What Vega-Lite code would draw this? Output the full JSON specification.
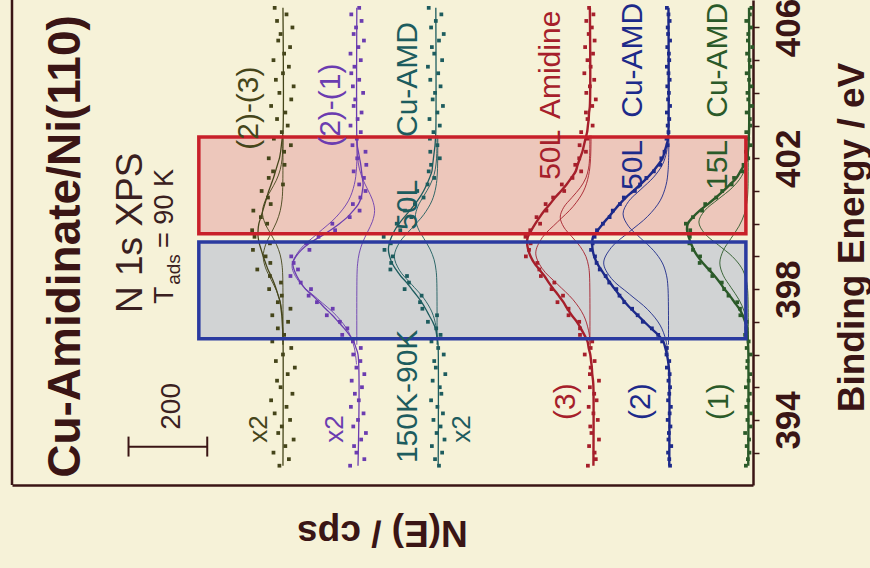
{
"$schema": "https://vega.github.io/schema/vega-lite/v6.json",
"width": 741, "height": 485,
"autosize": "none",
"padding": {"left": 12, "top": 0, "right": 117, "bottom": 83},
"background": "#f6f2d8",
"config": {"view": {"stroke": null}, "font": "Liberation Sans"},
"datasets": {
"boxes": [{"b":"r","N":1403,"N2":18,"E":402.65,"E2":399.69},{"b":"b","N":1403,"N2":18,"E":399.44,"E2":396.48}],
"fit": [
{"s":"A","E":392.6,"N":1190},{"s":"A","E":396.6,"N":1190},{"s":"A","E":396.8,"N":1191},{"s":"A","E":397.0,"N":1192},{"s":"A","E":397.2,"N":1193},{"s":"A","E":397.4,"N":1195},{"s":"A","E":397.6,"N":1197},{"s":"A","E":397.8,"N":1202},{"s":"A","E":398.0,"N":1207},{"s":"A","E":398.2,"N":1213},{"s":"A","E":398.4,"N":1220},{"s":"A","E":398.6,"N":1228},{"s":"A","E":398.8,"N":1234},{"s":"A","E":399.0,"N":1240},{"s":"A","E":399.2,"N":1245},{"s":"A","E":399.4,"N":1250},{"s":"A","E":399.6,"N":1253},{"s":"A","E":399.8,"N":1253},{"s":"A","E":400.0,"N":1251},{"s":"A","E":400.2,"N":1246},{"s":"A","E":400.4,"N":1241},{"s":"A","E":400.6,"N":1236},{"s":"A","E":400.8,"N":1231},{"s":"A","E":401.0,"N":1226},{"s":"A","E":401.2,"N":1220},{"s":"A","E":401.4,"N":1214},{"s":"A","E":401.6,"N":1209},{"s":"A","E":401.8,"N":1204},{"s":"A","E":402.0,"N":1199},{"s":"A","E":402.2,"N":1196},{"s":"A","E":402.4,"N":1194},{"s":"A","E":402.6,"N":1192},{"s":"A","E":402.8,"N":1190},{"s":"A","E":406.6,"N":1190},
{"s":"B","E":392.6,"N":1000},{"s":"B","E":396.0,"N":1000},{"s":"B","E":396.2,"N":1005},{"s":"B","E":396.4,"N":1011},{"s":"B","E":396.6,"N":1022},{"s":"B","E":396.8,"N":1035},{"s":"B","E":397.0,"N":1050},{"s":"B","E":397.2,"N":1065},{"s":"B","E":397.4,"N":1082},{"s":"B","E":397.6,"N":1098},{"s":"B","E":397.8,"N":1115},{"s":"B","E":398.0,"N":1133},{"s":"B","E":398.2,"N":1145},{"s":"B","E":398.4,"N":1155},{"s":"B","E":398.6,"N":1162},{"s":"B","E":398.8,"N":1165},{"s":"B","E":399.0,"N":1157},{"s":"B","E":399.2,"N":1143},{"s":"B","E":399.4,"N":1123},{"s":"B","E":399.6,"N":1096},{"s":"B","E":399.8,"N":1070},{"s":"B","E":400.0,"N":1047},{"s":"B","E":400.2,"N":1027},{"s":"B","E":400.4,"N":1012},{"s":"B","E":400.6,"N":999},{"s":"B","E":400.8,"N":992},{"s":"B","E":401.0,"N":989},{"s":"B","E":401.2,"N":987},{"s":"B","E":401.4,"N":989},{"s":"B","E":401.6,"N":991},{"s":"B","E":401.8,"N":993},{"s":"B","E":402.0,"N":996},{"s":"B","E":402.2,"N":999},{"s":"B","E":402.4,"N":1002},{"s":"B","E":402.6,"N":1003},{"s":"B","E":406.6,"N":1003},
{"s":"C","E":392.6,"N":797},{"s":"C","E":396.2,"N":797},{"s":"C","E":396.4,"N":798},{"s":"C","E":396.6,"N":801},{"s":"C","E":396.8,"N":804},{"s":"C","E":397.0,"N":811},{"s":"C","E":397.2,"N":820},{"s":"C","E":397.4,"N":829},{"s":"C","E":397.6,"N":839},{"s":"C","E":397.8,"N":851},{"s":"C","E":398.0,"N":864},{"s":"C","E":398.2,"N":877},{"s":"C","E":398.4,"N":892},{"s":"C","E":398.6,"N":904},{"s":"C","E":398.8,"N":914},{"s":"C","E":399.0,"N":920},{"s":"C","E":399.2,"N":923},{"s":"C","E":399.4,"N":921},{"s":"C","E":399.6,"N":915},{"s":"C","E":399.8,"N":907},{"s":"C","E":400.0,"N":896},{"s":"C","E":400.2,"N":883},{"s":"C","E":400.4,"N":869},{"s":"C","E":400.6,"N":856},{"s":"C","E":400.8,"N":844},{"s":"C","E":401.0,"N":834},{"s":"C","E":401.2,"N":826},{"s":"C","E":401.4,"N":819},{"s":"C","E":401.6,"N":813},{"s":"C","E":401.8,"N":811},{"s":"C","E":402.0,"N":809},{"s":"C","E":402.2,"N":807},{"s":"C","E":402.4,"N":805},{"s":"C","E":402.6,"N":804},{"s":"C","E":402.8,"N":803},{"s":"C","E":406.6,"N":803},
{"s":"D","E":392.6,"N":404},{"s":"D","E":395.0,"N":404},{"s":"D","E":395.2,"N":405},{"s":"D","E":395.4,"N":407},{"s":"D","E":395.6,"N":408},{"s":"D","E":395.8,"N":410},{"s":"D","E":396.0,"N":412},{"s":"D","E":396.2,"N":416},{"s":"D","E":396.4,"N":419},{"s":"D","E":396.6,"N":427},{"s":"D","E":396.8,"N":436},{"s":"D","E":397.0,"N":446},{"s":"D","E":397.2,"N":459},{"s":"D","E":397.4,"N":470},{"s":"D","E":397.6,"N":480},{"s":"D","E":397.8,"N":492},{"s":"D","E":398.0,"N":505},{"s":"D","E":398.2,"N":517},{"s":"D","E":398.4,"N":528},{"s":"D","E":398.6,"N":541},{"s":"D","E":398.8,"N":554},{"s":"D","E":399.0,"N":563},{"s":"D","E":399.2,"N":569},{"s":"D","E":399.4,"N":572},{"s":"D","E":399.6,"N":570},{"s":"D","E":399.8,"N":561},{"s":"D","E":400.0,"N":551},{"s":"D","E":400.2,"N":540},{"s":"D","E":400.4,"N":528},{"s":"D","E":400.6,"N":514},{"s":"D","E":400.8,"N":501},{"s":"D","E":401.0,"N":486},{"s":"D","E":401.2,"N":472},{"s":"D","E":401.4,"N":460},{"s":"D","E":401.6,"N":449},{"s":"D","E":401.8,"N":444},{"s":"D","E":402.0,"N":438},{"s":"D","E":402.2,"N":432},{"s":"D","E":402.4,"N":428},{"s":"D","E":402.6,"N":424},{"s":"D","E":402.8,"N":420},{"s":"D","E":403.0,"N":418},{"s":"D","E":403.2,"N":416},{"s":"D","E":403.4,"N":415},{"s":"D","E":403.6,"N":413},{"s":"D","E":406.6,"N":413},
{"s":"E","E":392.6,"N":212},{"s":"E","E":395.4,"N":212},{"s":"E","E":395.6,"N":213},{"s":"E","E":395.8,"N":215},{"s":"E","E":396.0,"N":218},{"s":"E","E":396.2,"N":222},{"s":"E","E":396.4,"N":227},{"s":"E","E":396.6,"N":240},{"s":"E","E":396.8,"N":258},{"s":"E","E":397.0,"N":275},{"s":"E","E":397.2,"N":292},{"s":"E","E":397.4,"N":309},{"s":"E","E":397.6,"N":324},{"s":"E","E":397.8,"N":337},{"s":"E","E":398.0,"N":350},{"s":"E","E":398.2,"N":362},{"s":"E","E":398.4,"N":374},{"s":"E","E":398.6,"N":385},{"s":"E","E":398.8,"N":395},{"s":"E","E":399.0,"N":402},{"s":"E","E":399.2,"N":406},{"s":"E","E":399.4,"N":407},{"s":"E","E":399.6,"N":405},{"s":"E","E":399.8,"N":393},{"s":"E","E":400.0,"N":380},{"s":"E","E":400.2,"N":366},{"s":"E","E":400.4,"N":352},{"s":"E","E":400.6,"N":338},{"s":"E","E":400.8,"N":322},{"s":"E","E":401.0,"N":303},{"s":"E","E":401.2,"N":285},{"s":"E","E":401.4,"N":268},{"s":"E","E":401.6,"N":253},{"s":"E","E":401.8,"N":240},{"s":"E","E":402.0,"N":229},{"s":"E","E":402.2,"N":224},{"s":"E","E":402.4,"N":219},{"s":"E","E":402.6,"N":215},{"s":"E","E":402.8,"N":214},{"s":"E","E":406.6,"N":214},
{"s":"F","E":392.6,"N":12},{"s":"F","E":396.2,"N":12},{"s":"F","E":396.4,"N":13},{"s":"F","E":396.6,"N":14},{"s":"F","E":396.8,"N":15},{"s":"F","E":397.0,"N":20},{"s":"F","E":397.2,"N":26},{"s":"F","E":397.4,"N":35},{"s":"F","E":397.6,"N":47},{"s":"F","E":397.8,"N":59},{"s":"F","E":398.0,"N":72},{"s":"F","E":398.2,"N":84},{"s":"F","E":398.4,"N":97},{"s":"F","E":398.6,"N":112},{"s":"F","E":398.8,"N":127},{"s":"F","E":399.0,"N":140},{"s":"F","E":399.2,"N":150},{"s":"F","E":399.4,"N":157},{"s":"F","E":399.6,"N":163},{"s":"F","E":399.8,"N":167},{"s":"F","E":400.0,"N":165},{"s":"F","E":400.2,"N":152},{"s":"F","E":400.4,"N":135},{"s":"F","E":400.6,"N":114},{"s":"F","E":400.8,"N":94},{"s":"F","E":401.0,"N":75},{"s":"F","E":401.2,"N":58},{"s":"F","E":401.4,"N":42},{"s":"F","E":401.6,"N":32},{"s":"F","E":401.8,"N":22},{"s":"F","E":402.0,"N":14},{"s":"F","E":402.2,"N":13},{"s":"F","E":402.4,"N":11},{"s":"F","E":402.6,"N":11},{"s":"F","E":402.8,"N":10},{"s":"F","E":406.6,"N":10}
],
"comp": [
{"s":"A","c":"A1","E":396.3,"N":1190},{"s":"A","c":"A1","E":398.4,"N":1190.6},{"s":"A","c":"A1","E":398.725,"N":1192.3},{"s":"A","c":"A1","E":399.05,"N":1197},{"s":"A","c":"A1","E":399.375,"N":1206.9},{"s":"A","c":"A1","E":399.7,"N":1221.6},{"s":"A","c":"A1","E":400.025,"N":1235.9},{"s":"A","c":"A1","E":400.35,"N":1242},{"s":"A","c":"A1","E":400.675,"N":1235.9},{"s":"A","c":"A1","E":401.0,"N":1221.6},{"s":"A","c":"A1","E":401.325,"N":1206.9},{"s":"A","c":"A1","E":401.65,"N":1197},{"s":"A","c":"A1","E":401.975,"N":1192.3},{"s":"A","c":"A1","E":402.3,"N":1190.6},{"s":"A","c":"A1","E":402.7,"N":1190},
{"s":"A","c":"A2","E":396.3,"N":1190},{"s":"A","c":"A2","E":396.9,"N":1190.6},{"s":"A","c":"A2","E":397.25,"N":1192.2},{"s":"A","c":"A2","E":397.6,"N":1196.8},{"s":"A","c":"A2","E":397.95,"N":1206.3},{"s":"A","c":"A2","E":398.3,"N":1220.4},{"s":"A","c":"A2","E":398.65,"N":1234.1},{"s":"A","c":"A2","E":399.0,"N":1240},{"s":"A","c":"A2","E":399.35,"N":1234.1},{"s":"A","c":"A2","E":399.7,"N":1220.4},{"s":"A","c":"A2","E":400.05,"N":1206.3},{"s":"A","c":"A2","E":400.4,"N":1196.8},{"s":"A","c":"A2","E":400.75,"N":1192.2},{"s":"A","c":"A2","E":401.1,"N":1190.6},{"s":"A","c":"A2","E":402.7,"N":1190},
{"s":"B","c":"B1","E":395.7,"N":1003.8},{"s":"B","c":"B1","E":396.2,"N":1009.3},{"s":"B","c":"B1","E":396.7,"N":1024.3},{"s":"B","c":"B1","E":397.2,"N":1055.6},{"s":"B","c":"B1","E":397.7,"N":1102.2},{"s":"B","c":"B1","E":398.2,"N":1147.5},{"s":"B","c":"B1","E":398.7,"N":1167},{"s":"B","c":"B1","E":399.2,"N":1147.5},{"s":"B","c":"B1","E":399.7,"N":1102.2},{"s":"B","c":"B1","E":400.2,"N":1055.6},{"s":"B","c":"B1","E":400.7,"N":1024.3},{"s":"B","c":"B1","E":401.2,"N":1009.3},{"s":"B","c":"B1","E":401.7,"N":1003.8},{"s":"B","c":"B1","E":402.7,"N":1002},
{"s":"B","c":"B2","E":396.3,"N":1003},{"s":"B","c":"B2","E":398.45,"N":1002.5},{"s":"B","c":"B2","E":398.775,"N":1001},{"s":"B","c":"B2","E":399.1,"N":996.9},{"s":"B","c":"B2","E":399.425,"N":988.4},{"s":"B","c":"B2","E":399.75,"N":975.7},{"s":"B","c":"B2","E":400.075,"N":963.3},{"s":"B","c":"B2","E":400.4,"N":958},{"s":"B","c":"B2","E":400.725,"N":963.3},{"s":"B","c":"B2","E":401.05,"N":975.7},{"s":"B","c":"B2","E":401.375,"N":988.4},{"s":"B","c":"B2","E":401.7,"N":996.9},{"s":"B","c":"B2","E":402.025,"N":1001},{"s":"B","c":"B2","E":402.35,"N":1002.5},{"s":"B","c":"B2","E":402.7,"N":1003},
{"s":"C","c":"C1","E":396.3,"N":800},{"s":"C","c":"C1","E":398.25,"N":800.6},{"s":"C","c":"C1","E":398.575,"N":802.4},{"s":"C","c":"C1","E":398.9,"N":807.4},{"s":"C","c":"C1","E":399.225,"N":817.9},{"s":"C","c":"C1","E":399.55,"N":833.4},{"s":"C","c":"C1","E":399.875,"N":848.5},{"s":"C","c":"C1","E":400.2,"N":855},{"s":"C","c":"C1","E":400.525,"N":848.5},{"s":"C","c":"C1","E":400.85,"N":833.4},{"s":"C","c":"C1","E":401.175,"N":817.9},{"s":"C","c":"C1","E":401.5,"N":807.4},{"s":"C","c":"C1","E":401.825,"N":802.4},{"s":"C","c":"C1","E":402.15,"N":800.6},{"s":"C","c":"C1","E":402.7,"N":800},
{"s":"C","c":"C2","E":396.3,"N":798},{"s":"C","c":"C2","E":396.45,"N":799.2},{"s":"C","c":"C2","E":396.875,"N":802.8},{"s":"C","c":"C2","E":397.3,"N":812.9},{"s":"C","c":"C2","E":397.725,"N":833.8},{"s":"C","c":"C2","E":398.15,"N":864.8},{"s":"C","c":"C2","E":398.575,"N":895},{"s":"C","c":"C2","E":399.0,"N":908},{"s":"C","c":"C2","E":399.425,"N":895},{"s":"C","c":"C2","E":399.85,"N":864.8},{"s":"C","c":"C2","E":400.275,"N":833.8},{"s":"C","c":"C2","E":400.7,"N":812.9},{"s":"C","c":"C2","E":401.125,"N":802.8},{"s":"C","c":"C2","E":401.55,"N":799.2},{"s":"C","c":"C2","E":402.7,"N":798},
{"s":"D","c":"D1","E":396.3,"N":413},{"s":"D","c":"D1","E":398.4,"N":413.8},{"s":"D","c":"D1","E":398.7,"N":416.3},{"s":"D","c":"D1","E":399.0,"N":423.1},{"s":"D","c":"D1","E":399.3,"N":437.4},{"s":"D","c":"D1","E":399.6,"N":458.5},{"s":"D","c":"D1","E":399.9,"N":479.2},{"s":"D","c":"D1","E":400.2,"N":488},{"s":"D","c":"D1","E":400.5,"N":479.2},{"s":"D","c":"D1","E":400.8,"N":458.5},{"s":"D","c":"D1","E":401.1,"N":437.4},{"s":"D","c":"D1","E":401.4,"N":423.1},{"s":"D","c":"D1","E":401.7,"N":416.3},{"s":"D","c":"D1","E":402.0,"N":413.8},{"s":"D","c":"D1","E":402.7,"N":413},
{"s":"D","c":"D2","E":396.25,"N":411.5},{"s":"D","c":"D2","E":396.725,"N":416.2},{"s":"D","c":"D2","E":397.2,"N":428.9},{"s":"D","c":"D2","E":397.675,"N":455.5},{"s":"D","c":"D2","E":398.15,"N":495},{"s":"D","c":"D2","E":398.625,"N":533.5},{"s":"D","c":"D2","E":399.1,"N":550},{"s":"D","c":"D2","E":399.575,"N":533.5},{"s":"D","c":"D2","E":400.05,"N":495},{"s":"D","c":"D2","E":400.525,"N":455.5},{"s":"D","c":"D2","E":401.0,"N":428.9},{"s":"D","c":"D2","E":401.475,"N":416.2},{"s":"D","c":"D2","E":401.95,"N":411.5},{"s":"D","c":"D2","E":402.7,"N":410},
{"s":"E","c":"E1","E":396.3,"N":214},{"s":"E","c":"E1","E":398.05,"N":215.3},{"s":"E","c":"E1","E":398.425,"N":219.1},{"s":"E","c":"E1","E":398.8,"N":229.5},{"s":"E","c":"E1","E":399.175,"N":251.4},{"s":"E","c":"E1","E":399.55,"N":283.8},{"s":"E","c":"E1","E":399.925,"N":315.4},{"s":"E","c":"E1","E":400.3,"N":329},{"s":"E","c":"E1","E":400.675,"N":315.4},{"s":"E","c":"E1","E":401.05,"N":283.8},{"s":"E","c":"E1","E":401.425,"N":251.4},{"s":"E","c":"E1","E":401.8,"N":229.5},{"s":"E","c":"E1","E":402.175,"N":219.1},{"s":"E","c":"E1","E":402.55,"N":215.3},{"s":"E","c":"E1","E":402.7,"N":214},
{"s":"E","c":"E2","E":395.95,"N":214.8},{"s":"E","c":"E2","E":396.425,"N":220.3},{"s":"E","c":"E2","E":396.9,"N":235.3},{"s":"E","c":"E2","E":397.375,"N":266.6},{"s":"E","c":"E2","E":397.85,"N":313.2},{"s":"E","c":"E2","E":398.325,"N":358.5},{"s":"E","c":"E2","E":398.8,"N":378},{"s":"E","c":"E2","E":399.275,"N":358.5},{"s":"E","c":"E2","E":399.75,"N":313.2},{"s":"E","c":"E2","E":400.225,"N":266.6},{"s":"E","c":"E2","E":400.7,"N":235.3},{"s":"E","c":"E2","E":401.175,"N":220.3},{"s":"E","c":"E2","E":401.65,"N":214.8},{"s":"E","c":"E2","E":402.7,"N":213},
{"s":"F","c":"F1","E":396.3,"N":12},{"s":"F","c":"F1","E":397.95,"N":13.4},{"s":"F","c":"F1","E":398.3,"N":17.5},{"s":"F","c":"F1","E":398.65,"N":28.9},{"s":"F","c":"F1","E":399.0,"N":52.6},{"s":"F","c":"F1","E":399.35,"N":87.9},{"s":"F","c":"F1","E":399.7,"N":122.3},{"s":"F","c":"F1","E":400.05,"N":137},{"s":"F","c":"F1","E":400.4,"N":122.3},{"s":"F","c":"F1","E":400.75,"N":87.9},{"s":"F","c":"F1","E":401.1,"N":52.6},{"s":"F","c":"F1","E":401.45,"N":28.9},{"s":"F","c":"F1","E":401.8,"N":17.5},{"s":"F","c":"F1","E":402.15,"N":13.4},{"s":"F","c":"F1","E":402.7,"N":12},
{"s":"F","c":"F2","E":396.3,"N":12},{"s":"F","c":"F2","E":396.55,"N":12.8},{"s":"F","c":"F2","E":396.925,"N":15.2},{"s":"F","c":"F2","E":397.3,"N":21.7},{"s":"F","c":"F2","E":397.675,"N":35.4},{"s":"F","c":"F2","E":398.05,"N":55.7},{"s":"F","c":"F2","E":398.425,"N":75.5},{"s":"F","c":"F2","E":398.8,"N":84},{"s":"F","c":"F2","E":399.175,"N":75.5},{"s":"F","c":"F2","E":399.55,"N":55.7},{"s":"F","c":"F2","E":399.925,"N":35.4},{"s":"F","c":"F2","E":400.3,"N":21.7},{"s":"F","c":"F2","E":400.675,"N":15.2},{"s":"F","c":"F2","E":401.05,"N":12.8},{"s":"F","c":"F2","E":402.7,"N":12}
],
"pts": [
{"s":"A","E":392.6,"N":1199},{"s":"A","E":392.8,"N":1175},{"s":"A","E":393.0,"N":1214},{"s":"A","E":393.2,"N":1184},{"s":"A","E":393.4,"N":1163},{"s":"A","E":393.6,"N":1202},{"s":"A","E":393.8,"N":1193},{"s":"A","E":394.0,"N":1172},{"s":"A","E":394.2,"N":1211},{"s":"A","E":394.4,"N":1181},{"s":"A","E":394.6,"N":1220},{"s":"A","E":394.8,"N":1166},{"s":"A","E":395.0,"N":1196},{"s":"A","E":395.2,"N":1205},{"s":"A","E":395.4,"N":1178},{"s":"A","E":395.6,"N":1160},{"s":"A","E":395.8,"N":1208},{"s":"A","E":396.0,"N":1190},{"s":"A","E":396.2,"N":1169},{"s":"A","E":396.4,"N":1217},{"s":"A","E":396.6,"N":1187},{"s":"A","E":396.8,"N":1203},{"s":"A","E":397.0,"N":1177},{"s":"A","E":397.2,"N":1217},{"s":"A","E":397.4,"N":1171},{"s":"A","E":397.6,"N":1203},{"s":"A","E":397.8,"N":1193},{"s":"A","E":398.0,"N":1225},{"s":"A","E":398.2,"N":1195},{"s":"A","E":398.4,"N":1223},{"s":"A","E":398.6,"N":1255},{"s":"A","E":398.8,"N":1222},{"s":"A","E":399.0,"N":1234},{"s":"A","E":399.2,"N":1266},{"s":"A","E":399.4,"N":1223},{"s":"A","E":399.6,"N":1262},{"s":"A","E":399.8,"N":1268},{"s":"A","E":400.0,"N":1230},{"s":"A","E":400.2,"N":1246},{"s":"A","E":400.4,"N":1265},{"s":"A","E":400.6,"N":1221},{"s":"A","E":400.8,"N":1228},{"s":"A","E":401.0,"N":1244},{"s":"A","E":401.2,"N":1190},{"s":"A","E":401.4,"N":1226},{"s":"A","E":401.6,"N":1215},{"s":"A","E":401.8,"N":1186},{"s":"A","E":402.0,"N":1226},{"s":"A","E":402.2,"N":1187},{"s":"A","E":402.4,"N":1170},{"s":"A","E":402.6,"N":1213},{"s":"A","E":402.8,"N":1193},{"s":"A","E":403.0,"N":1178},{"s":"A","E":403.2,"N":1205},{"s":"A","E":403.4,"N":1184},{"s":"A","E":403.6,"N":1220},{"s":"A","E":403.8,"N":1169},{"s":"A","E":404.0,"N":1199},{"s":"A","E":404.2,"N":1163},{"s":"A","E":404.4,"N":1208},{"s":"A","E":404.6,"N":1190},{"s":"A","E":404.8,"N":1175},{"s":"A","E":405.0,"N":1214},{"s":"A","E":405.2,"N":1187},{"s":"A","E":405.4,"N":1172},{"s":"A","E":405.6,"N":1202},{"s":"A","E":405.8,"N":1196},{"s":"A","E":406.0,"N":1166},{"s":"A","E":406.2,"N":1205},{"s":"A","E":406.4,"N":1181},{"s":"A","E":406.6,"N":1211},
{"s":"B","E":392.6,"N":1020},{"s":"B","E":392.8,"N":984},{"s":"B","E":393.0,"N":1004},{"s":"B","E":393.2,"N":1010},{"s":"B","E":393.4,"N":992},{"s":"B","E":393.6,"N":980},{"s":"B","E":393.8,"N":1012},{"s":"B","E":394.0,"N":1000},{"s":"B","E":394.2,"N":986},{"s":"B","E":394.4,"N":1018},{"s":"B","E":394.6,"N":998},{"s":"B","E":394.8,"N":1008},{"s":"B","E":395.0,"N":990},{"s":"B","E":395.2,"N":1016},{"s":"B","E":395.4,"N":984},{"s":"B","E":395.6,"N":1004},{"s":"B","E":395.8,"N":994},{"s":"B","E":396.0,"N":1012},{"s":"B","E":396.2,"N":993},{"s":"B","E":396.4,"N":1013},{"s":"B","E":396.6,"N":1040},{"s":"B","E":396.8,"N":1027},{"s":"B","E":397.0,"N":1046},{"s":"B","E":397.2,"N":1079},{"s":"B","E":397.4,"N":1064},{"s":"B","E":397.6,"N":1104},{"s":"B","E":397.8,"N":1125},{"s":"B","E":398.0,"N":1119},{"s":"B","E":398.2,"N":1145},{"s":"B","E":398.4,"N":1171},{"s":"B","E":398.6,"N":1152},{"s":"B","E":398.8,"N":1163},{"s":"B","E":399.0,"N":1169},{"s":"B","E":399.2,"N":1123},{"s":"B","E":399.4,"N":1131},{"s":"B","E":399.6,"N":1100},{"s":"B","E":399.8,"N":1058},{"s":"B","E":400.0,"N":1065},{"s":"B","E":400.2,"N":1021},{"s":"B","E":400.4,"N":996},{"s":"B","E":400.6,"N":1013},{"s":"B","E":400.8,"N":994},{"s":"B","E":401.0,"N":981},{"s":"B","E":401.2,"N":997},{"s":"B","E":401.4,"N":985},{"s":"B","E":401.6,"N":1011},{"s":"B","E":401.8,"N":979},{"s":"B","E":402.0,"N":1002},{"s":"B","E":402.2,"N":981},{"s":"B","E":402.4,"N":1014},{"s":"B","E":402.6,"N":1003},{"s":"B","E":402.8,"N":993},{"s":"B","E":403.0,"N":1019},{"s":"B","E":403.2,"N":1001},{"s":"B","E":403.4,"N":991},{"s":"B","E":403.6,"N":1011},{"s":"B","E":403.8,"N":1007},{"s":"B","E":404.0,"N":987},{"s":"B","E":404.2,"N":1013},{"s":"B","E":404.4,"N":997},{"s":"B","E":404.6,"N":1017},{"s":"B","E":404.8,"N":1009},{"s":"B","E":405.0,"N":993},{"s":"B","E":405.2,"N":1019},{"s":"B","E":405.4,"N":999},{"s":"B","E":405.6,"N":985},{"s":"B","E":405.8,"N":1011},{"s":"B","E":406.0,"N":1005},{"s":"B","E":406.2,"N":991},{"s":"B","E":406.4,"N":1017},{"s":"B","E":406.6,"N":997},
{"s":"C","E":392.6,"N":795},{"s":"C","E":392.8,"N":805},{"s":"C","E":393.0,"N":787},{"s":"C","E":393.2,"N":813},{"s":"C","E":393.4,"N":781},{"s":"C","E":393.6,"N":801},{"s":"C","E":393.8,"N":791},{"s":"C","E":394.0,"N":809},{"s":"C","E":394.2,"N":785},{"s":"C","E":394.4,"N":799},{"s":"C","E":394.6,"N":815},{"s":"C","E":394.8,"N":789},{"s":"C","E":395.0,"N":793},{"s":"C","E":395.2,"N":811},{"s":"C","E":395.4,"N":779},{"s":"C","E":395.6,"N":803},{"s":"C","E":395.8,"N":807},{"s":"C","E":396.0,"N":783},{"s":"C","E":396.2,"N":797},{"s":"C","E":396.4,"N":814},{"s":"C","E":396.6,"N":791},{"s":"C","E":396.8,"N":802},{"s":"C","E":397.0,"N":823},{"s":"C","E":397.2,"N":800},{"s":"C","E":397.4,"N":837},{"s":"C","E":397.6,"N":843},{"s":"C","E":397.8,"N":839},{"s":"C","E":398.0,"N":882},{"s":"C","E":398.2,"N":871},{"s":"C","E":398.4,"N":876},{"s":"C","E":398.6,"N":918},{"s":"C","E":398.8,"N":916},{"s":"C","E":399.0,"N":912},{"s":"C","E":399.2,"N":933},{"s":"C","E":399.4,"N":917},{"s":"C","E":399.6,"N":935},{"s":"C","E":399.8,"N":893},{"s":"C","E":400.0,"N":902},{"s":"C","E":400.2,"N":865},{"s":"C","E":400.4,"N":881},{"s":"C","E":400.6,"N":856},{"s":"C","E":400.8,"N":834},{"s":"C","E":401.0,"N":850},{"s":"C","E":401.2,"N":824},{"s":"C","E":401.4,"N":807},{"s":"C","E":401.6,"N":821},{"s":"C","E":401.8,"N":815},{"s":"C","E":402.0,"N":793},{"s":"C","E":402.2,"N":817},{"s":"C","E":402.4,"N":799},{"s":"C","E":402.6,"N":818},{"s":"C","E":402.8,"N":809},{"s":"C","E":403.0,"N":793},{"s":"C","E":403.2,"N":819},{"s":"C","E":403.4,"N":799},{"s":"C","E":403.6,"N":785},{"s":"C","E":403.8,"N":811},{"s":"C","E":404.0,"N":805},{"s":"C","E":404.2,"N":791},{"s":"C","E":404.4,"N":817},{"s":"C","E":404.6,"N":797},{"s":"C","E":404.8,"N":823},{"s":"C","E":405.0,"N":787},{"s":"C","E":405.2,"N":807},{"s":"C","E":405.4,"N":813},{"s":"C","E":405.6,"N":795},{"s":"C","E":405.8,"N":783},{"s":"C","E":406.0,"N":815},{"s":"C","E":406.2,"N":803},{"s":"C","E":406.4,"N":789},{"s":"C","E":406.6,"N":821},
{"s":"D","E":392.6,"N":418},{"s":"D","E":392.8,"N":398},{"s":"D","E":393.0,"N":401},{"s":"D","E":393.2,"N":415},{"s":"D","E":393.4,"N":390},{"s":"D","E":393.6,"N":409},{"s":"D","E":393.8,"N":412},{"s":"D","E":394.0,"N":393},{"s":"D","E":394.2,"N":404},{"s":"D","E":394.4,"N":416},{"s":"D","E":394.6,"N":396},{"s":"D","E":394.8,"N":402},{"s":"D","E":395.0,"N":413},{"s":"D","E":395.2,"N":390},{"s":"D","E":395.4,"N":413},{"s":"D","E":395.6,"N":411},{"s":"D","E":395.8,"N":401},{"s":"D","E":396.0,"N":426},{"s":"D","E":396.2,"N":411},{"s":"D","E":396.4,"N":407},{"s":"D","E":396.6,"N":438},{"s":"D","E":396.8,"N":438},{"s":"D","E":397.0,"N":440},{"s":"D","E":397.2,"N":467},{"s":"D","E":397.4,"N":467},{"s":"D","E":397.6,"N":495},{"s":"D","E":397.8,"N":481},{"s":"D","E":398.0,"N":510},{"s":"D","E":398.2,"N":503},{"s":"D","E":398.4,"N":537},{"s":"D","E":398.6,"N":541},{"s":"D","E":398.8,"N":546},{"s":"D","E":399.0,"N":575},{"s":"D","E":399.2,"N":567},{"s":"D","E":399.4,"N":563},{"s":"D","E":399.6,"N":576},{"s":"D","E":399.8,"N":564},{"s":"D","E":400.0,"N":539},{"s":"D","E":400.2,"N":548},{"s":"D","E":400.4,"N":523},{"s":"D","E":400.6,"N":525},{"s":"D","E":400.8,"N":506},{"s":"D","E":401.0,"N":478},{"s":"D","E":401.2,"N":484},{"s":"D","E":401.4,"N":457},{"s":"D","E":401.6,"N":435},{"s":"D","E":401.8,"N":450},{"s":"D","E":402.0,"N":440},{"s":"D","E":402.2,"N":423},{"s":"D","E":402.4,"N":439},{"s":"D","E":402.6,"N":419},{"s":"D","E":402.8,"N":435},{"s":"D","E":403.0,"N":406},{"s":"D","E":403.2,"N":419},{"s":"D","E":403.4,"N":423},{"s":"D","E":403.6,"N":407},{"s":"D","E":403.8,"N":398},{"s":"D","E":404.0,"N":422},{"s":"D","E":404.2,"N":413},{"s":"D","E":404.4,"N":402},{"s":"D","E":404.6,"N":427},{"s":"D","E":404.8,"N":411},{"s":"D","E":405.0,"N":419},{"s":"D","E":405.2,"N":405},{"s":"D","E":405.4,"N":425},{"s":"D","E":405.6,"N":401},{"s":"D","E":405.8,"N":416},{"s":"D","E":406.0,"N":408},{"s":"D","E":406.2,"N":422},{"s":"D","E":406.4,"N":404},{"s":"D","E":406.6,"N":415},
{"s":"E","E":392.6,"N":210},{"s":"E","E":392.8,"N":212},{"s":"E","E":393.0,"N":215},{"s":"E","E":393.2,"N":207},{"s":"E","E":393.4,"N":214},{"s":"E","E":393.6,"N":213},{"s":"E","E":393.8,"N":209},{"s":"E","E":394.0,"N":216},{"s":"E","E":394.2,"N":211},{"s":"E","E":394.4,"N":208},{"s":"E","E":394.6,"N":215},{"s":"E","E":394.8,"N":212},{"s":"E","E":395.0,"N":210},{"s":"E","E":395.2,"N":214},{"s":"E","E":395.4,"N":211},{"s":"E","E":395.6,"N":218},{"s":"E","E":395.8,"N":212},{"s":"E","E":396.0,"N":219},{"s":"E","E":396.2,"N":218},{"s":"E","E":396.4,"N":230},{"s":"E","E":396.6,"N":240},{"s":"E","E":396.8,"N":256},{"s":"E","E":397.0,"N":279},{"s":"E","E":397.2,"N":292},{"s":"E","E":397.4,"N":306},{"s":"E","E":397.6,"N":326},{"s":"E","E":397.8,"N":338},{"s":"E","E":398.0,"N":346},{"s":"E","E":398.2,"N":364},{"s":"E","E":398.4,"N":373},{"s":"E","E":398.6,"N":388},{"s":"E","E":398.8,"N":396},{"s":"E","E":399.0,"N":400},{"s":"E","E":399.2,"N":410},{"s":"E","E":399.4,"N":406},{"s":"E","E":399.6,"N":401},{"s":"E","E":399.8,"N":395},{"s":"E","E":400.0,"N":380},{"s":"E","E":400.2,"N":363},{"s":"E","E":400.4,"N":355},{"s":"E","E":400.6,"N":337},{"s":"E","E":400.8,"N":327},{"s":"E","E":401.0,"N":299},{"s":"E","E":401.2,"N":286},{"s":"E","E":401.4,"N":270},{"s":"E","E":401.6,"N":251},{"s":"E","E":401.8,"N":235},{"s":"E","E":402.0,"N":232},{"s":"E","E":402.2,"N":224},{"s":"E","E":402.4,"N":216},{"s":"E","E":402.6,"N":219},{"s":"E","E":402.8,"N":214},{"s":"E","E":403.0,"N":216},{"s":"E","E":403.2,"N":212},{"s":"E","E":403.4,"N":218},{"s":"E","E":403.6,"N":210},{"s":"E","E":403.8,"N":215},{"s":"E","E":404.0,"N":213},{"s":"E","E":404.2,"N":217},{"s":"E","E":404.4,"N":211},{"s":"E","E":404.6,"N":214},{"s":"E","E":404.8,"N":218},{"s":"E","E":405.0,"N":212},{"s":"E","E":405.2,"N":213},{"s":"E","E":405.4,"N":217},{"s":"E","E":405.6,"N":210},{"s":"E","E":405.8,"N":215},{"s":"E","E":406.0,"N":216},{"s":"E","E":406.2,"N":211},{"s":"E","E":406.4,"N":214},{"s":"E","E":406.6,"N":218},
{"s":"F","E":392.6,"N":18},{"s":"F","E":392.8,"N":13},{"s":"F","E":393.0,"N":9},{"s":"F","E":393.2,"N":16},{"s":"F","E":393.4,"N":10},{"s":"F","E":393.6,"N":20},{"s":"F","E":393.8,"N":6},{"s":"F","E":394.0,"N":14},{"s":"F","E":394.2,"N":5},{"s":"F","E":394.4,"N":17},{"s":"F","E":394.6,"N":12},{"s":"F","E":394.8,"N":8},{"s":"F","E":395.0,"N":18},{"s":"F","E":395.2,"N":11},{"s":"F","E":395.4,"N":7},{"s":"F","E":395.6,"N":15},{"s":"F","E":395.8,"N":14},{"s":"F","E":396.0,"N":6},{"s":"F","E":396.2,"N":16},{"s":"F","E":396.4,"N":11},{"s":"F","E":396.6,"N":20},{"s":"F","E":396.8,"N":17},{"s":"F","E":397.0,"N":16},{"s":"F","E":397.2,"N":32},{"s":"F","E":397.4,"N":33},{"s":"F","E":397.6,"N":40},{"s":"F","E":397.8,"N":62},{"s":"F","E":398.0,"N":73},{"s":"F","E":398.2,"N":79},{"s":"F","E":398.4,"N":103},{"s":"F","E":398.6,"N":110},{"s":"F","E":398.8,"N":135},{"s":"F","E":399.0,"N":134},{"s":"F","E":399.2,"N":152},{"s":"F","E":399.4,"N":161},{"s":"F","E":399.6,"N":160},{"s":"F","E":399.8,"N":159},{"s":"F","E":400.0,"N":170},{"s":"F","E":400.2,"N":152},{"s":"F","E":400.4,"N":129},{"s":"F","E":400.6,"N":121},{"s":"F","E":400.8,"N":93},{"s":"F","E":401.0,"N":78},{"s":"F","E":401.2,"N":54},{"s":"F","E":401.4,"N":48},{"s":"F","E":401.6,"N":26},{"s":"F","E":401.8,"N":24},{"s":"F","E":402.0,"N":12},{"s":"F","E":402.2,"N":18},{"s":"F","E":402.4,"N":6},{"s":"F","E":402.6,"N":12},{"s":"F","E":402.8,"N":17},{"s":"F","E":403.0,"N":7},{"s":"F","E":403.2,"N":8},{"s":"F","E":403.4,"N":16},{"s":"F","E":403.6,"N":3},{"s":"F","E":403.8,"N":12},{"s":"F","E":404.0,"N":14},{"s":"F","E":404.2,"N":4},{"s":"F","E":404.4,"N":10},{"s":"F","E":404.6,"N":16},{"s":"F","E":404.8,"N":6},{"s":"F","E":405.0,"N":9},{"s":"F","E":405.2,"N":15},{"s":"F","E":405.4,"N":2},{"s":"F","E":405.6,"N":13},{"s":"F","E":405.8,"N":12},{"s":"F","E":406.0,"N":5},{"s":"F","E":406.2,"N":17},{"s":"F","E":406.4,"N":8},{"s":"F","E":406.6,"N":4}
],
"labels": [
{"s":"A","t":"(2)-(3)","E":402.26,"N":1253},
{"s":"B","t":"(2)-(1)","E":402.35,"N":1046},
{"s":"C","t":"50L","E":399.81,"N":851},
{"s":"C","t":"Cu-AMD","E":402.65,"N":851},
{"s":"C","t":"150K-90K","E":392.68,"N":851},
{"s":"D","t":"50L","E":401.34,"N":489},
{"s":"D","t":"Amidine","E":403.2,"N":489},
{"s":"D","t":"(3)","E":394.0,"N":451},
{"s":"E","t":"50L","E":401.03,"N":281},
{"s":"E","t":"Cu-AMD","E":403.24,"N":281},
{"s":"E","t":"(2)","E":394.0,"N":261},
{"s":"F","t":"15L","E":401.03,"N":66},
{"s":"F","t":"Cu-AMD","E":403.24,"N":66},
{"s":"F","t":"(1)","E":394.0,"N":63}
],
"x2": [
{"s":"A","t":"x2","E":393.3,"N":1230},
{"s":"B","t":"x2","E":393.3,"N":1038},
{"s":"C","t":"x2","E":393.3,"N":717}
]
},
"encoding": {
"x": {"field": "N", "type": "quantitative", "scale": {"domain": [0, 1876], "reverse": true, "nice": false, "zero": false},
 "axis": {"orient": "bottom", "domain": true, "domainColor": "#3a1515", "domainWidth": 2.5, "ticks": false, "labels": false, "grid": false,
  "title": "N(E) / cps", "titleAngle": 180, "titleFontSize": 37, "titleFontWeight": "bold", "titleColor": "#3a1515", "titleFont": "Liberation Sans",
  "titleX": 370, "titleY": 35, "titleAlign": "center", "titleBaseline": "alphabetic"}},
"y": {"field": "E", "type": "quantitative", "scale": {"domain": [392.01, 406.84], "nice": false, "zero": false},
 "axis": {"orient": "right", "values": [393,394,395,396,397,398,399,400,401,402,403,404,405,406],
  "labelExpr": "datum.value % 4 == 2 ? datum.label : ''", "labelAngle": -90, "labelAlign": "center", "labelBaseline": "top",
  "labelPadding": 12, "labelFontSize": 35, "labelFontWeight": "bold", "labelColor": "#3a1515", "labelFont": "Liberation Sans",
  "labelOverlap": false, "labelFlush": false, "tickSize": 6, "tickColor": "#3a1515", "tickWidth": 1.5,
  "domainColor": "#3a1515", "domainWidth": 2.5, "grid": false,
  "title": "Binding Energy / eV", "titleAngle": -90, "titleFontSize": 37, "titleFontWeight": "bold", "titleColor": "#3a1515", "titleFont": "Liberation Sans",
  "titleX": 110, "titleY": 237, "titleAlign": "center", "titleBaseline": "alphabetic"}}
},
"layer": [
{"data": {"name": "boxes"}, "mark": {"type": "rect", "fillOpacity": 0.4, "strokeWidth": 0},
 "encoding": {"x2": {"field": "N2"}, "y2": {"field": "E2"},
  "fill": {"field": "b", "type": "nominal", "scale": {"domain": ["r", "b"], "range": ["#e08890", "#9ca6d0"]}, "legend": null}}},
{"data": {"name": "comp"}, "mark": {"type": "line", "strokeWidth": 0.9, "interpolate": "catmull-rom"},
 "encoding": {"detail": {"field": "c", "type": "nominal"}, "order": {"field": "E", "type": "quantitative"},
  "color": {"field": "s", "type": "nominal", "scale": {"domain": ["A","B","C","D","E","F"], "range": ["#45451a","#6b3cb0","#1d5c5e","#a61f2b","#1d2a8a","#2b5a29"]}, "legend": null}}},
{"data": {"name": "fit"}, "transform": [{"filter": "datum.s == 'A' || datum.s == 'B' || datum.s == 'C'"}],
 "mark": {"type": "line", "strokeWidth": 1.3, "interpolate": "catmull-rom"},
 "encoding": {"order": {"field": "E", "type": "quantitative"},
  "color": {"field": "s", "type": "nominal", "scale": {"domain": ["A","B","C","D","E","F"], "range": ["#45451a","#6b3cb0","#1d5c5e","#a61f2b","#1d2a8a","#2b5a29"]}, "legend": null}}},
{"data": {"name": "fit"}, "transform": [{"filter": "datum.s == 'D' || datum.s == 'E' || datum.s == 'F'"}],
 "mark": {"type": "line", "strokeWidth": 2.4, "interpolate": "catmull-rom"},
 "encoding": {"order": {"field": "E", "type": "quantitative"},
  "color": {"field": "s", "type": "nominal", "scale": {"domain": ["A","B","C","D","E","F"], "range": ["#45451a","#6b3cb0","#1d5c5e","#a61f2b","#1d2a8a","#2b5a29"]}, "legend": null}}},
{"data": {"name": "pts"}, "mark": {"type": "point", "shape": "square", "filled": true, "size": 14, "opacity": 1},
 "encoding": {"color": {"field": "s", "type": "nominal", "scale": {"domain": ["A","B","C","D","E","F"], "range": ["#45451a","#6b3cb0","#1d5c5e","#a61f2b","#1d2a8a","#2b5a29"]}, "legend": null}}},
{"data": {"name": "boxes"}, "mark": {"type": "rect", "filled": false, "strokeWidth": 3.5},
 "encoding": {"x2": {"field": "N2"}, "y2": {"field": "E2"},
  "stroke": {"field": "b", "type": "nominal", "scale": {"domain": ["r", "b"], "range": ["#c8202a", "#2a3aa0"]}, "legend": null}}},
{"data": {"values": [{"N": 1876, "E": 392.01, "E2": 406.84}]}, "mark": {"type": "rule", "color": "#3a1515", "strokeWidth": 2.5},
 "encoding": {"y2": {"field": "E2"}}},
{"data": {"values": [{"N": 1381.7, "N2": 1581, "E": 393.18, "E2": 393.18}, {"N": 1381.7, "N2": 1381.7, "E": 392.88, "E2": 393.49}, {"N": 1581, "N2": 1581, "E": 392.88, "E2": 393.49}]},
 "mark": {"type": "rule", "color": "#3a1515", "strokeWidth": 2},
 "encoding": {"x2": {"field": "N2"}, "y2": {"field": "E2"}}},
{"data": {"name": "labels"}, "mark": {"type": "text", "angle": 270, "align": "left", "baseline": "alphabetic", "fontSize": 30, "font": "Liberation Sans"},
 "encoding": {"text": {"field": "t"},
  "color": {"field": "s", "type": "nominal", "scale": {"domain": ["A","B","C","D","E","F"], "range": ["#45451a","#6b3cb0","#1d5c5e","#a61f2b","#1d2a8a","#2b5a29"]}, "legend": null}}},
{"data": {"name": "x2"}, "mark": {"type": "text", "angle": 270, "align": "left", "baseline": "alphabetic", "fontSize": 26, "font": "Liberation Sans"},
 "encoding": {"text": {"field": "t"},
  "color": {"field": "s", "type": "nominal", "scale": {"domain": ["A","B","C","D","E","F"], "range": ["#45451a","#6b3cb0","#1d5c5e","#a61f2b","#1d2a8a","#2b5a29"]}, "legend": null}}},
{"data": {"values": [{"t": "Cu-Amidinate/Ni(110)", "E": 392.23, "N": 1704}]},
 "mark": {"type": "text", "angle": 270, "align": "left", "baseline": "alphabetic", "fontSize": 46, "fontWeight": "bold", "font": "Liberation Sans", "color": "#3a1515"},
 "encoding": {"text": {"field": "t"}}},
{"data": {"values": [{"t": "N 1s XPS", "E": 397.27, "N": 1547}]},
 "mark": {"type": "text", "angle": 270, "align": "left", "baseline": "alphabetic", "fontSize": 37, "font": "Liberation Sans", "color": "#3a2020"},
 "encoding": {"text": {"field": "t"}}},
{"data": {"values": [{"t": "T", "E": 397.55, "N": 1469}]},
 "mark": {"type": "text", "angle": 270, "align": "left", "baseline": "alphabetic", "fontSize": 28, "font": "Liberation Sans", "color": "#3a2020"},
 "encoding": {"text": {"field": "t"}}},
{"data": {"values": [{"t": "ads", "E": 398.13, "N": 1451}]},
 "mark": {"type": "text", "angle": 270, "align": "left", "baseline": "alphabetic", "fontSize": 19, "font": "Liberation Sans", "color": "#3a2020"},
 "encoding": {"text": {"field": "t"}}},
{"data": {"values": [{"t": "= 90 K", "E": 399.26, "N": 1469}]},
 "mark": {"type": "text", "angle": 270, "align": "left", "baseline": "alphabetic", "fontSize": 27, "font": "Liberation Sans", "color": "#3a2020"},
 "encoding": {"text": {"field": "t"}}},
{"data": {"values": [{"t": "200", "E": 393.7, "N": 1451}]},
 "mark": {"type": "text", "angle": 270, "align": "left", "baseline": "alphabetic", "fontSize": 28, "font": "Liberation Sans", "color": "#3a2020"},
 "encoding": {"text": {"field": "t"}}}
]
}
